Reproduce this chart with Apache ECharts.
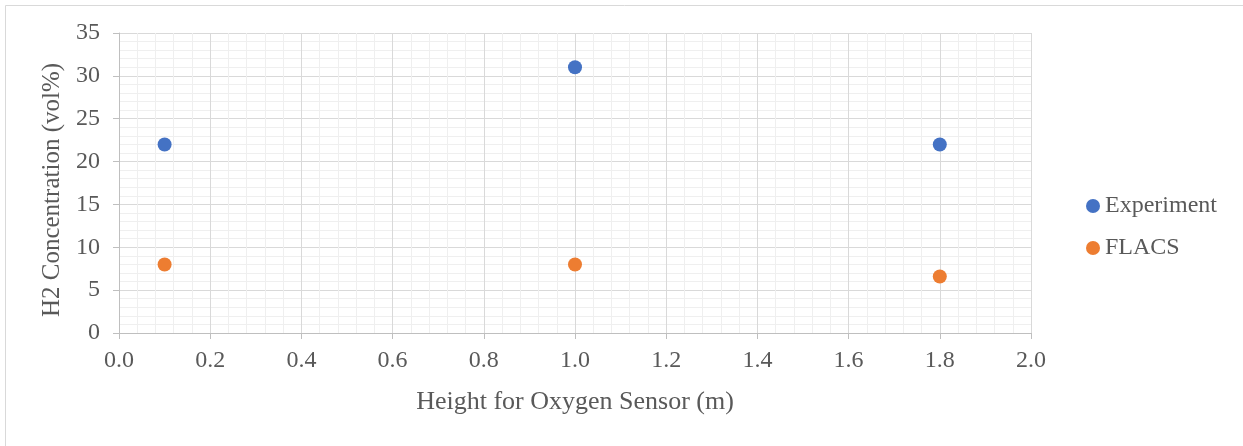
<!DOCTYPE html>
<html>
<head>
<meta charset="utf-8">
<script src="https://cdn.jsdelivr.net/npm/echarts@6/dist/echarts.min.js"></script>
<style>
  html, body { margin: 0; padding: 0; background: #fff; }
  #chart { width: 1243px; height: 446px; }
</style>
</head>
<body>
<div id="chart"></div>
<script>
// Sensor heights (m) and measured / simulated H2 concentration (vol%)
const heights = [0.1, 1.0, 1.8];
const experiment = [22, 31, 22];
const flacs = [8, 8, 6.6];
const seriesNames = ['Experiment', 'FLACS'];

const textColor = '#595959';
const fontFamily = '"Liberation Serif", "Times New Roman", serif';

const chart = echarts.init(document.getElementById('chart'));
chart.setOption({
  animation: false,
  backgroundColor: '#fff',
  textStyle: { fontFamily: fontFamily, color: textColor },
  graphic: [{
    type: 'rect',
    left: 3, top: 3,
    shape: { width: 1238, height: 446 },
    style: { fill: 'none', stroke: '#d9d9d9', lineWidth: 1 },
    silent: true
  }],
  grid: { left: 119, right: 212, top: 33, bottom: 113 },
  legend: {
    orient: 'vertical',
    left: 1081, top: 189,
    itemGap: 18,
    itemWidth: 14, itemHeight: 14,
    icon: 'circle',
    textStyle: { fontFamily: fontFamily, fontSize: 24, color: textColor },
    data: seriesNames
  },
  xAxis: {
    type: 'value',
    min: 0, max: 2, interval: 0.2,
    name: 'Height for Oxygen Sensor (m)',
    nameLocation: 'middle',
    nameGap: 56,
    nameTextStyle: { fontFamily: fontFamily, fontSize: 26, color: textColor },
    axisLine: { show: true, lineStyle: { color: '#bfbfbf' } },
    axisTick: { show: true, length: 6, lineStyle: { color: '#bfbfbf' } },
    axisLabel: { fontFamily: fontFamily, fontSize: 24, color: textColor, margin: 16,
      formatter: v => v.toFixed(1) },
    splitLine: { show: true, lineStyle: { color: '#d9d9d9' } },
    minorTick: { show: false, splitNumber: 5 },
    minorSplitLine: { show: true, lineStyle: { color: '#efefef' } }
  },
  yAxis: {
    type: 'value',
    min: 0, max: 35, interval: 5,
    name: 'H2 Concentration (vol%)',
    nameLocation: 'middle',
    nameGap: 51,
    nameTextStyle: { fontFamily: fontFamily, fontSize: 25, color: textColor, padding: [0, 14, 0, 0] },
    axisLine: { show: true, lineStyle: { color: '#bfbfbf' } },
    axisTick: { show: true, length: 6, lineStyle: { color: '#bfbfbf' } },
    axisLabel: { fontFamily: fontFamily, fontSize: 24, color: textColor, margin: 19 },
    splitLine: { show: true, lineStyle: { color: '#d9d9d9' } },
    minorTick: { show: false, splitNumber: 5 },
    minorSplitLine: { show: true, lineStyle: { color: '#efefef' } }
  },
  series: [
    {
      name: seriesNames[0],
      type: 'scatter',
      symbol: 'circle',
      symbolSize: 14,
      itemStyle: { color: '#4472C4', opacity: 1 },
      data: heights.map((h, i) => [h, experiment[i]])
    },
    {
      name: seriesNames[1],
      type: 'scatter',
      symbol: 'circle',
      symbolSize: 14,
      itemStyle: { color: '#ED7D31', opacity: 1 },
      data: heights.map((h, i) => [h, flacs[i]])
    }
  ]
});
</script>
</body>
</html>
